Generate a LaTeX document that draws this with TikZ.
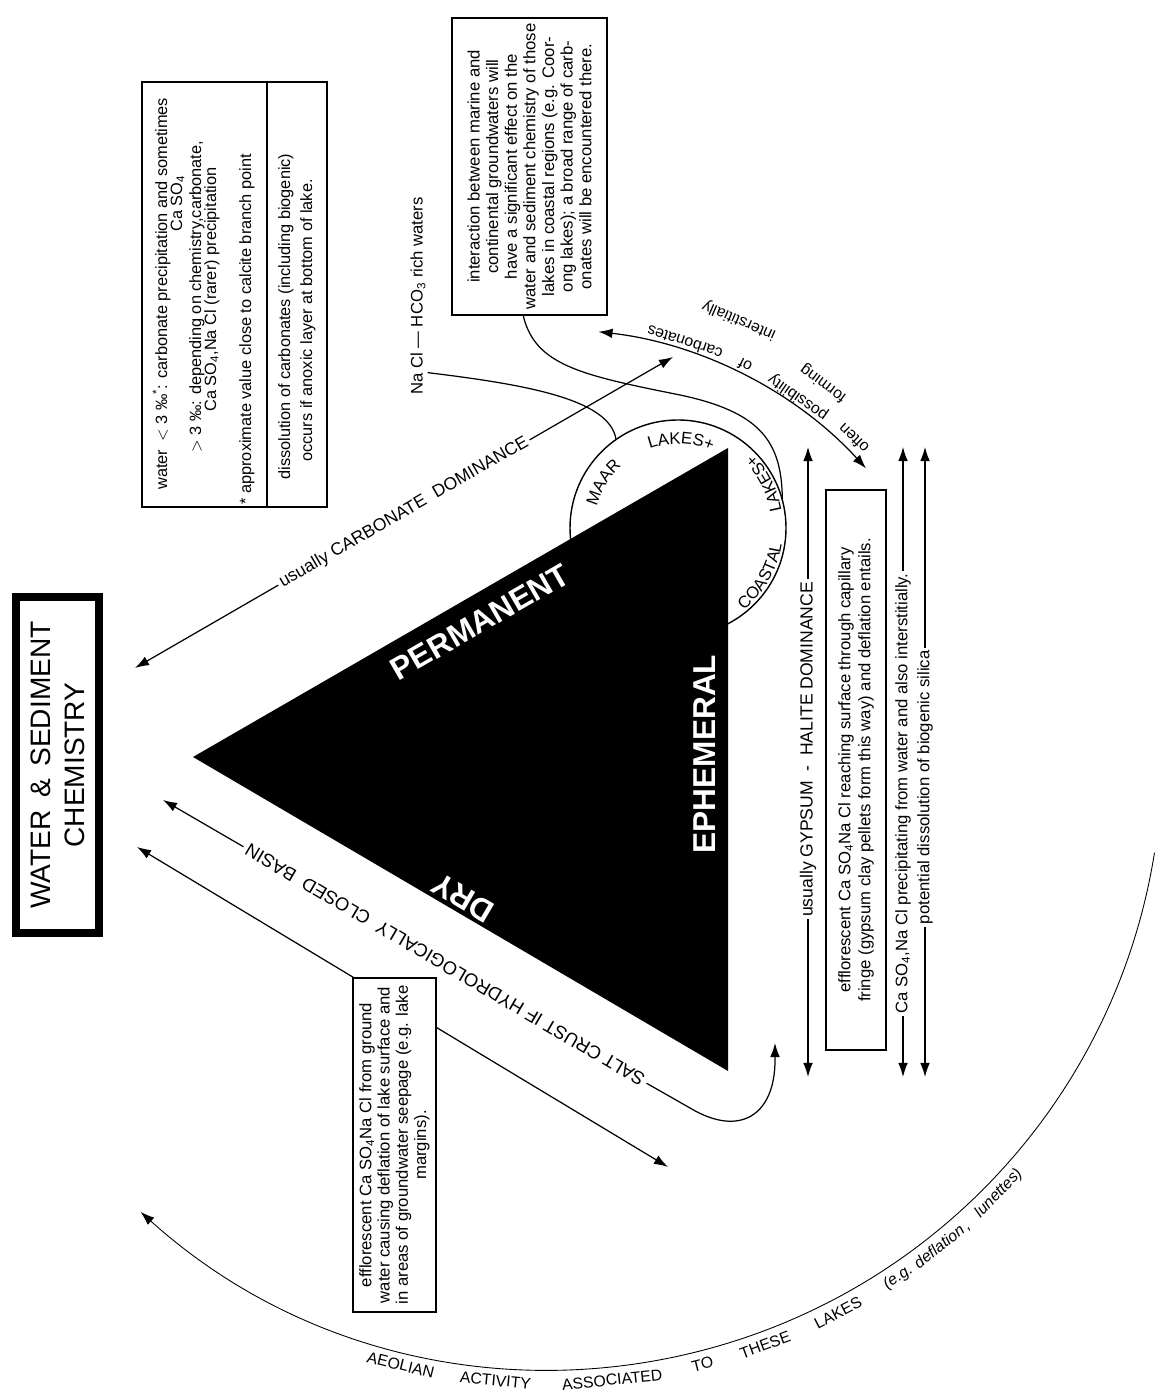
\documentclass[tikz,border=0pt]{standalone}
\usepackage{fontspec}
\setmainfont{Liberation Sans}
\usetikzlibrary{arrows.meta,calc,decorations.text}

\newcommand{\dgtitle}{\fontsize{16}{19.3}\selectfont}
\newcommand{\dgtri}{\fontsize{18}{20}\selectfont\bfseries}
\newcommand{\dgtag}{\fontsize{10}{12}\selectfont}
\newcommand{\dgnote}{\fontsize{9.5}{10.6}\selectfont}
\newcommand{\dgcorner}{\fontsize{9.3}{11}\selectfont}
\newcommand{\dgarc}{\fontsize{9.5}{11}\selectfont}
\newcommand{\dgword}{\fontsize{9}{11}\selectfont}

\begin{document}
\begin{tikzpicture}[x=0.02cm, y=0.02cm]
		\tikzset{edge/.style = {line width=0.7pt, >={Latex[length=8pt,width=5.5pt]}}}
		\tikzset{note/.style = {draw, line width=0.8pt, fill=white, rotate=90, align=center, inner sep=0pt}}
		\tikzset{boxline/.style = {rotate=90, anchor=base west, inner sep=0pt, font=\dgcorner}}
		\tikzset{tag/.style = {sloped, fill=white, inner sep=1.5pt, font=\dgtag}}
		\tikzset{word/.style = {inner sep=0pt, font=\dgword}}
		\tikzset{onblack/.style = {text=white, inner sep=0pt, font=\dgtri}}
		\tikzset{ringtext/.style = {decorate, decoration={text along path, text align=center, text={|\dgarc|#1}}}}
		
		\useasboundingbox (0,0) rectangle (1155,1391);
		
		% title
		\node[draw, line width=0.16cm, rotate=90, minimum width=6.72cm, minimum height=1.66cm,
		      align=center, font=\dgtitle] (title) at (57.5,626) {WATER \,\&\, SEDIMENT\\CHEMISTRY};
		
		% the lake triangle with its ring
		\coordinate (cen) at (550,634);
		\coordinate (sc)  at (678,863);
		\coordinate (L)   at (193,634);
		\coordinate (T)   at (728,943);
		\coordinate (B)   at (728,320);
		\draw[line width=0.8pt] (sc) circle[radius=108];
		\fill (L) -- (T) -- (B) -- cycle;
		
		\path[ringtext=MAAR]    ($(sc)+(175:84)$)  arc[start angle=175, end angle=122, radius=84];
		\path[ringtext=LAKES+]  ($(sc)+(115:84)$)  arc[start angle=115, end angle=61,  radius=84];
		\path[ringtext=COASTAL] ($(sc)+(-57:105)$) arc[start angle=-57, end angle=-3,  radius=105];
		\path[ringtext=LAKES+]  ($(sc)+(0:105)$)   arc[start angle=0,   end angle=54,  radius=105];
		
		\node[onblack, rotate=30]    (perm)  at (480,769) {PERMANENT};
		\node[onblack, rotate=90]    (ephem) at (705,637) {EPHEMERAL};
		\node[onblack, rotate=149.6] (dry)   at (463,493) {DRY};
		
		% carbonate side
		\coordinate (carbL) at (135,723);
		\coordinate (carbR) at (673,1034);
		\draw[edge, <->] (carbL) -- node[tag] (carb) {usually CARBONATE \ DOMINANCE} (carbR);
		
		\coordinate (oftL) at ($(cen)+(83.5:428)$);
		\draw[edge, <->] (oftL) arc[start angle=83.5, end angle=42.4, radius=428];
		\foreach \a/\r/\w [count=\i] in {46.4/440/often, 55.4/437/possibility, 63.5/437/of, 72/436/carbonates,
		                                 53.8/463/forming, 66.6/476/interstitially}
			\node[word, rotate=\a+90] (oft\i) at ($(cen)+(\a:\r)$) {\w};
		
		% aeolian arc
		\coordinate (aeolL) at ($(cen)+(228:612)$);
		\draw[edge, line width=0.5pt, <-] (aeolL) arc[start angle=228, end angle=351, radius=612];
		\foreach \a/\w [count=\i] in {-103.8/AEOLIAN, -95/ACTIVITY, -84.3/ASSOCIATED, -75.9/TO, -69.9/THESE,
		                              -62.6/LAKES, -56.2/{\itshape(e.g.}, -51.2/{\itshape deflation\,,}, -44.2/{\itshape lunettes)}}
			\node[word, rotate=\a+90] (aeol\i) at ($(cen)+(\a:626)$) {\w};
		
		% waters feeding the ring
		\node[rotate=90, font=\dgnote, inner sep=1pt] (nacl) at (418,1095) {Na Cl --- HCO\textsubscript{3} rich waters};
		\coordinate (naclend) at ($(sc)+(125:108)$);
		\draw[edge] ($(nacl.south west)!0.12!(nacl.south east)$) .. controls (530,1006) and (610,991) .. (naclend);
		
		\node[note, minimum width=5.94cm, minimum height=3.1cm, font=\dgnote] (marine) at (529.5,1224.5)
			{interaction between marine and\\continental groundwaters will\\have a significant effect on the\\water and sediment chemistry of those\\lakes in coastal regions (e.g. Coor-\\ong lakes); a broad range of carb-\\onates will be encountered there.};
		\coordinate (marineend) at ($(sc)+(15:108)$);
		\draw[edge] ($(marine.north west)!0.46!(marine.south west)$) .. controls (535,1026) and (580,1016) .. (680,996)
			.. controls (760,979) and (782,950) .. (marineend);
		
		% water chemistry box
		\node[draw, line width=0.8pt, rotate=90, minimum width=8.5cm, minimum height=2.5cm] (chembox) at (204.5,1096.5) {};
		\node[draw, line width=0.8pt, rotate=90, minimum width=8.5cm, minimum height=1.2cm] (anoxbox) at (297,1096.5) {};
		\node[boxline] (chem1) at (167,901)  {water\enspace$<$ 3 ‰\textsuperscript{*}: carbonate precipitation and sometimes};
		\node[boxline] (chem2) at (182,1159) {Ca SO\textsubscript{4}};
		\node[boxline] (chem3) at (201,938)  {$>$ 3 ‰: depending on chemistry,carbonate,};
		\node[boxline] (chem4) at (216,979)  {Ca SO\textsubscript{4},Na Cl (rarer) precipitation};
		\node[boxline] (chem5) at (251,886)  {* approximate value close to calcite branch point};
		\node[boxline] (anox1) at (290,911)  {dissolution of carbonates (including biogenic)};
		\node[boxline] (anox2) at (312,929)  {occurs if anoxic layer at bottom of lake.};
		
		% ephemeral side
		\coordinate (gypT) at (808,944);
		\coordinate (gypB) at (808,314);
		\draw[edge, <->] (gypB) -- node[tag, pos=0.52] (gyp) {usually GYPSUM \ - \ HALITE DOMINANCE} (gypT);
		
		\node[note, minimum width=11.2cm, minimum height=1.2cm, font=\fontsize{9.5}{11.4}\selectfont] (capil) at (856,621)
			{efflorescent Ca SO\textsubscript{4}Na Cl reaching surface through capillary\\fringe (gypsum clay pellets form this way) and deflation entails.};
		
		\coordinate (precT) at (903,944);
		\coordinate (precB) at (903,314);
		\draw[edge, <->] (precB) -- node[tag, pos=0.45, font=\dgnote] (prec) {Ca SO\textsubscript{4},Na Cl precipitating from water and also interstitially.} (precT);
		\coordinate (silT) at (925,944);
		\coordinate (silB) at (925,314);
		\draw[edge, <->] (silB) -- node[tag, pos=0.46, font=\dgnote] (sil) {potential dissolution of biogenic silica} (silT);
		
		% dry side
		\coordinate (saltL) at (163,591);
		\coordinate (saltR) at (775,348);
		\node[rotate=149.6, inner sep=2pt, font=\fontsize{10.5}{12}\selectfont] (salt) at (445,426)
			{SALT CRUST IF HYDROLOGICALLY \ CLOSED \ BASIN};
		\draw[edge, ->] (salt.east) -- (saltL);
		\draw[edge, ->] (salt.west) -- (690,283) .. controls (740,253) and (775,276) .. (775,331) -- (saltR);
		
		\coordinate (seepL) at (137,544);
		\coordinate (seepR) at (668,224);
		\draw[edge, <->] (seepL) -- (seepR);
		\node[note, minimum width=6.68cm, minimum height=1.66cm, font=\fontsize{9.5}{10.4}\selectfont] (seep) at (394.5,246)
			{efflorescent Ca SO\textsubscript{4}Na Cl from ground\\water causing deflation of lake surface and\\in areas of groundwater seepage (e.g. lake\\margins).};
\end{tikzpicture}
\end{document}
